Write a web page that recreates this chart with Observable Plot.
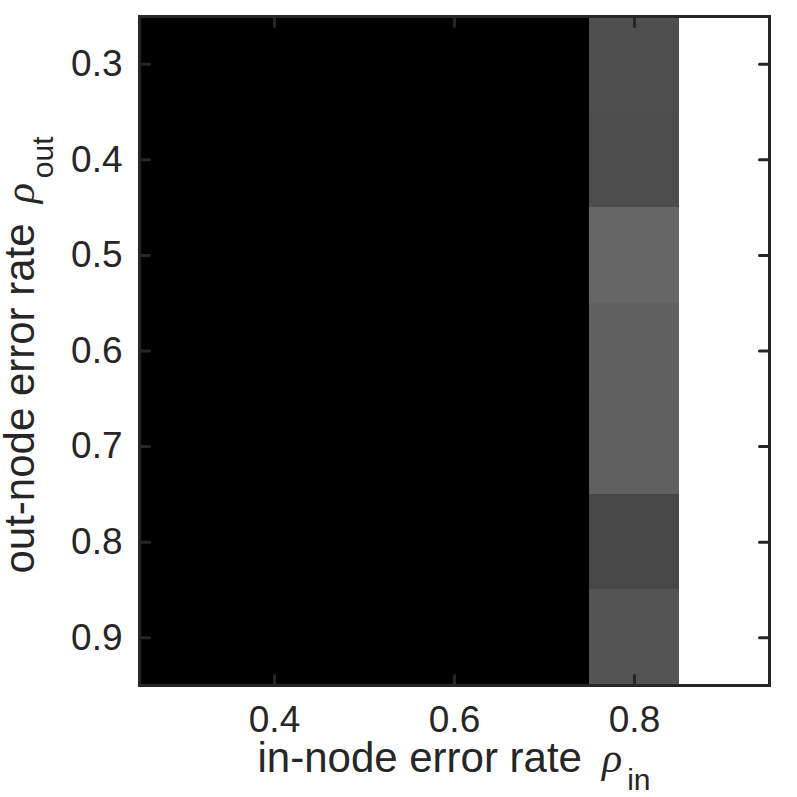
<!DOCTYPE html>
<html>
<head>
<meta charset="utf-8">
<script src="https://cdn.jsdelivr.net/npm/d3@7"></script>
<script src="https://cdn.jsdelivr.net/npm/@observablehq/plot@0.6"></script>
<style>
  html, body { margin: 0; padding: 0; background: #fff; }
  #chart svg { display: block; }
</style>
</head>
<body>
<div id="chart"></div>
<script>
// in-node error rate (columns) and out-node error rate (rows)
const rhoIn = [0.3, 0.4, 0.5, 0.6, 0.7, 0.8, 0.9];
const rhoOut = [0.3, 0.4, 0.5, 0.6, 0.7, 0.8, 0.9];
// cell values (0 = black, 1 = white), one row per rhoOut
const cellValues = [
  [0, 0, 0, 0, 0, 0.31, 1],
  [0, 0, 0, 0, 0, 0.30, 1],
  [0, 0, 0, 0, 0, 0.40, 1],
  [0, 0, 0, 0, 0, 0.38, 1],
  [0, 0, 0, 0, 0, 0.375, 1],
  [0, 0, 0, 0, 0, 0.28, 1],
  [0, 0, 0, 0, 0, 0.33, 1]
];
const xTicks = [0.4, 0.6, 0.8];
const yTicks = [0.3, 0.4, 0.5, 0.6, 0.7, 0.8, 0.9];
const xLabel = "in-node error rate";
const yLabel = "out-node error rate";

const table = [];
rhoOut.forEach((ro, i) => rhoIn.forEach((ri, j) => table.push({rin: ri, rout: ro, v: cellValues[i][j]})));
const hx = (rhoIn[1] - rhoIn[0]) / 2;
const hy = (rhoOut[1] - rhoOut[0]) / 2;

const ink = "#262626";
const tickShape = {draw(context, l) { context.moveTo(0, 0); context.lineTo(0, -l); }};
const fmt = d3.format(".1f");

const W = 797, H = 797;
const chart = Plot.plot({
  width: W, height: H,
  marginLeft: 139, marginRight: 28, marginTop: 16, marginBottom: 112,
  style: {fontFamily: "'Liberation Sans', Arial, Helvetica, sans-serif", color: ink, background: "#fff"},
  x: {type: "linear", domain: [rhoIn[0] - hx, rhoIn[rhoIn.length - 1] + hx]},
  y: {type: "linear", domain: [rhoOut[0] - hy, rhoOut[rhoOut.length - 1] + hy], reverse: true},
  color: {type: "linear", domain: [0, 1], range: ["#000000", "#ffffff"], interpolate: "rgb"},
  marks: [
    Plot.rect(table, {x1: d => d.rin - hx, x2: d => d.rin + hx, y1: d => d.rout - hy, y2: d => d.rout + hy, fill: "v", shapeRendering: "crispEdges"}),
    Plot.vector(xTicks, {x: d => d, frameAnchor: "bottom", anchor: "start", length: 10, rotate: 0, shape: tickShape, stroke: ink, strokeWidth: 3}),
    Plot.vector(xTicks, {x: d => d, frameAnchor: "top", anchor: "start", length: 10, rotate: 180, shape: tickShape, stroke: ink, strokeWidth: 3}),
    Plot.vector(yTicks, {y: d => d, frameAnchor: "left", anchor: "start", length: 10, rotate: 90, shape: tickShape, stroke: ink, strokeWidth: 3}),
    Plot.vector(yTicks, {y: d => d, frameAnchor: "right", anchor: "start", length: 10, rotate: 270, shape: tickShape, stroke: ink, strokeWidth: 3}),
    Plot.frame({stroke: ink, strokeWidth: 3}),
    Plot.axisX({anchor: "bottom", ticks: xTicks, tickSize: 0, tickPadding: 20, tickFormat: fmt, fontSize: 37, label: null}),
    Plot.axisY({anchor: "left", ticks: yTicks, tickSize: 0, tickPadding: 17, tickFormat: fmt, fontSize: 37, label: null})
  ]
});
document.getElementById("chart").appendChild(chart);

// axis labels with Greek symbol and subscript
const svg = d3.select(chart);
const cx = (139 + (W - 28)) / 2;
const greekFont = "'Liberation Serif', 'Times New Roman', serif";
const xl = svg.append("text")
  .attr("x", cx).attr("y", 772)
  .attr("text-anchor", "middle")
  .attr("font-family", "'Liberation Sans', Arial, sans-serif")
  .attr("font-size", 42).attr("fill", ink);
xl.append("tspan").text(xLabel);
xl.append("tspan").attr("dx", 20).attr("font-style", "italic").attr("font-family", greekFont).text("ρ");
xl.append("tspan").attr("dx", 5).attr("dy", 18).attr("font-size", 30).text("in");

const yl = svg.append("text")
  .attr("transform", `translate(34,355) rotate(-90)`)
  .attr("text-anchor", "middle")
  .attr("font-family", "'Liberation Sans', Arial, sans-serif")
  .attr("font-size", 42).attr("fill", ink);
yl.append("tspan").text(yLabel);
yl.append("tspan").attr("dx", 20).attr("font-style", "italic").attr("font-family", greekFont).text("ρ");
yl.append("tspan").attr("dx", 5).attr("dy", 19).attr("font-size", 30).text("out");
</script>
</body>
</html>
